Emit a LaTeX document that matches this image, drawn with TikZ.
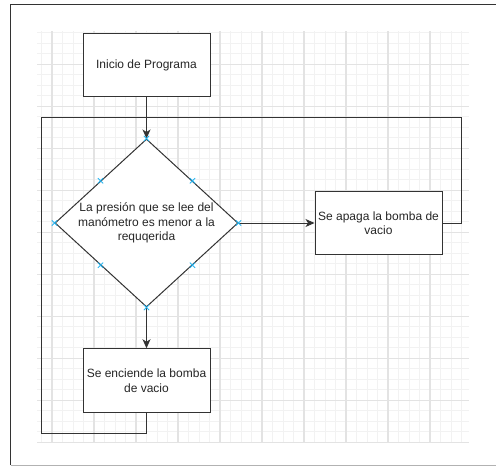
\documentclass[tikz,border=0pt]{standalone}
\usepackage{fontspec}
\setmainfont{Liberation Sans}
\usetikzlibrary{shapes.geometric,shapes.misc,arrows.meta,calc}

\definecolor{gridmaj}{HTML}{E3E3E3}
\definecolor{gridmin}{HTML}{F2F2F2}
\definecolor{linegray}{HTML}{333333}
\definecolor{portblue}{HTML}{29B6F2}

\tikzset{
    procbox/.style={draw=linegray, line width=1pt, fill=white, minimum width=127pt, minimum height=63.5pt, inner sep=0pt, align=center, font=\fontsize{12}{14.5}\selectfont, text=black!85},
    decision/.style={draw=linegray, line width=1pt, fill=white, diamond, minimum width=183pt, minimum height=168pt, inner sep=0pt},
    flow/.style={draw=linegray, line width=1pt, -{Stealth[length=9pt,width=8pt,inset=2.5pt]}},
    loopline/.style={draw=linegray, line width=1pt},
    port/.style={cross out, draw=portblue, line width=0.8pt, minimum size=4.5pt, inner sep=0pt},
}

\begin{document}
\begin{tikzpicture}[x=1pt, y=-1pt]

    \useasboundingbox (0,0) rectangle (496,466);

    \def \gleft {37}
    \def \gright {469}
    \def \gtop {31}
    \def \gbottom {442}

    % Grid: minor every 10.5, major every 42
    \begin{scope}
        \clip (\gleft,\gtop) rectangle (\gright,\gbottom);
        \foreach \i in {0,...,41} \draw[gridmin, line width=1pt] ({41.5+10.5*\i},\gtop) -- ({41.5+10.5*\i},\gbottom);
        \foreach \i in {0,...,39} \draw[gridmin, line width=1pt] (\gleft,{32.8+10.5*\i}) -- (\gright,{32.8+10.5*\i});
        \foreach \i in {0,...,10} \draw[gridmaj, line width=1.2pt] ({52+42*\i},\gtop) -- ({52+42*\i},\gbottom);
        \foreach \i in {0,...,9} \draw[gridmaj, line width=1.2pt] (\gleft,{64.3+42*\i}) -- (\gright,{64.3+42*\i});
    \end{scope}

    % Window frame
    \draw[linegray, line width=1pt] (10.5,465) -- (10.5,4) -- (496,4);
    \draw[black!30, line width=1pt] (10.5,465) -- (496,465);

    % Return line
    \coordinate (loopne) at (461.7,117);
    \coordinate (loopsw) at (41.7,433);

    \node[procbox] (inicio) at (146.5,65) {Inicio de Programa};
    \node[decision, label={[align=center, font=\fontsize{12}{14.5}\selectfont, text=black!85]center:La presión que se lee del\\manómetro es menor a la\\requqerida}] (presion) at (146.5,223) {};
    \node[procbox] (apaga) at (378.5,223) {Se apaga la bomba de\\vacio};
    \node[procbox] (enciende) at (146.5,380.5) {Se enciende la bomba\\de vacio};

    \draw[loopline] (apaga.east) -| (loopne) -| (loopsw) -| (enciende.south);

    \draw[flow] (inicio.south) -- (presion.north);
    \draw[flow] (presion.east) -- (apaga.west);
    \draw[flow] (presion.south) -- (enciende.north);

    % Connection points of the diamond
    \foreach \a in {north,south,east,west} \node[port] at (presion.\a) {};
    \node[port] at ($(presion.north)!0.5!(presion.west)$) {};
    \node[port] at ($(presion.north)!0.5!(presion.east)$) {};
    \node[port] at ($(presion.south)!0.5!(presion.west)$) {};
    \node[port] at ($(presion.south)!0.5!(presion.east)$) {};

\end{tikzpicture}
\end{document}
